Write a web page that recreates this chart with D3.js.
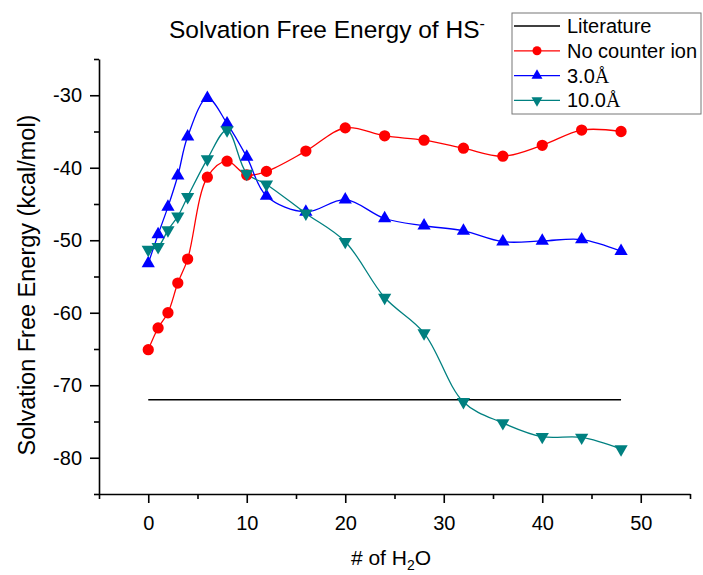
<!DOCTYPE html>
<html>
<head>
    <meta charset="utf-8">
    <title>Solvation Free Energy of HS-</title>
    <script src="https://d3js.org/d3.v7.min.js"></script>
    <style>
        body {
            margin: 0;
            background: #fff;
            font-family: Arial, 'Liberation Sans', sans-serif;
        }
        svg text { fill: #000; }
        .axis path, .axis line { stroke: #000; stroke-width: 1.6px; }
        .axis text { font-size: 20px; font-family: Arial, 'Liberation Sans', sans-serif; }
    </style>
</head>
<body>
<div id="chart"></div>
<script>
    // data
    const nWater = [0, 1, 2, 3, 4, 6, 8, 10, 12, 16, 20, 24, 28, 32, 36, 40, 44, 48];
    const noCounterIon = [-65.1, -62.1, -60.0, -55.9, -52.6, -41.3, -39.1, -41.0, -40.5, -37.7, -34.5, -35.6, -36.2, -37.3, -38.4, -36.9, -34.8, -35.0];
    const counter3A = [-53.2, -49.2, -45.4, -41.1, -35.7, -30.4, -33.9, -38.5, -43.9, -46.1, -44.4, -47.0, -48.0, -48.7, -50.2, -50.1, -49.9, -51.5];
    const counter10A = [-51.3, -50.9, -48.6, -46.7, -44.0, -38.8, -34.8, -40.8, -42.3, -46.3, -50.2, -57.9, -62.8, -72.3, -75.2, -77.1, -77.2, -78.8];
    const literatureX = [0, 48];
    const literatureY = [-72, -72];

    const xTicks = [0, 10, 20, 30, 40, 50];
    const yTicks = [-30, -40, -50, -60, -70, -80];

    const width = 703, height = 575;
    const margin = { top: 59, right: 13, bottom: 81, left: 99 };

    const svg = d3.select("#chart").append("svg")
        .attr("width", width)
        .attr("height", height);

    const x = d3.scaleLinear().domain([-5, 55]).range([margin.left, width - margin.right]);
    const y = d3.scaleLinear().domain([-85, -25]).range([height - margin.bottom, margin.top]);

    // axes: major + minor ticks
    const xAxis = svg.append("g").attr("class", "axis")
        .attr("transform", `translate(0,${height - margin.bottom})`)
        .call(d3.axisBottom(x).tickValues(xTicks).tickSize(9).tickPadding(8).tickSizeOuter(0));
    svg.append("g").attr("class", "axis")
        .attr("transform", `translate(0,${height - margin.bottom})`)
        .call(d3.axisBottom(x).tickValues(d3.range(-5, 56, 10)).tickSize(5).tickFormat("").tickSizeOuter(0))
        .select(".domain").remove();

    svg.append("g").attr("class", "axis")
        .attr("transform", `translate(${margin.left},0)`)
        .call(d3.axisLeft(y).tickValues(yTicks).tickSize(9).tickPadding(8).tickSizeOuter(0));
    svg.append("g").attr("class", "axis")
        .attr("transform", `translate(${margin.left},0)`)
        .call(d3.axisLeft(y).tickValues(d3.range(-85, -24, 10)).tickSize(5).tickFormat("").tickSizeOuter(0))
        .select(".domain").remove();

    svg.selectAll(".axis text").text(function () { return this.textContent.replace("−", "-"); });
    xAxis.selectAll("text").attr("dy", "0.95em");

    // series
    const series = [
        { name: "No counter ion", values: noCounterIon, color: "#ff0000", shape: "circle" },
        { name: "3.0", values: counter3A, color: "#0000ff", shape: "up" },
        { name: "10.0", values: counter10A, color: "#008080", shape: "down" }
    ];

    const line = d3.line()
        .x(d => x(d[0]))
        .y(d => y(d[1]))
        .curve(d3.curveCatmullRom.alpha(0.5));

    // literature line
    svg.append("path")
        .datum(d3.zip(literatureX, literatureY))
        .attr("d", d3.line().x(d => x(d[0])).y(d => y(d[1])))
        .attr("fill", "none")
        .attr("stroke", "#000")
        .attr("stroke-width", 1.4);

    function marker(shape, big) {
        if (shape === "circle") return d3.symbol().type(d3.symbolCircle).size(big ? 100 : 64)();
        return d3.symbol().type(d3.symbolTriangle).size(big ? 76 : 52)();
    }

    series.forEach(s => {
        const pts = d3.zip(nWater, s.values);
        svg.append("path")
            .datum(pts)
            .attr("d", line)
            .attr("fill", "none")
            .attr("stroke", s.color)
            .attr("stroke-width", 1.3);
    });

    series.forEach(s => {
        const pts = d3.zip(nWater, s.values);
        svg.append("g").selectAll("path")
            .data(pts)
            .join("path")
            .attr("d", marker(s.shape, true))
            .attr("transform", d => `translate(${x(d[0])},${y(d[1])})` + (s.shape === "down" ? " rotate(180)" : ""))
            .attr("fill", s.color);
    });

    // title
    const title = svg.append("text")
        .attr("x", 169)
        .attr("y", 38)
        .style("font-size", "24.5px");
    title.append("tspan").text("Solvation Free Energy of HS");
    title.append("tspan").attr("dy", -9).style("font-size", "16px").text("-");

    // axis titles
    const xl = svg.append("text")
        .attr("x", 391)
        .attr("y", 565)
        .attr("text-anchor", "middle")
        .style("font-size", "21px");
    xl.append("tspan").text("# of H");
    xl.append("tspan").attr("dy", 5).style("font-size", "14px").text("2");
    xl.append("tspan").attr("dy", -5).text("O");

    svg.append("text")
        .attr("transform", "translate(35,285) rotate(-90)")
        .attr("text-anchor", "middle")
        .style("font-size", "23.5px")
        .text("Solvation Free Energy (kcal/mol)");

    // legend
    const legend = svg.append("g").attr("transform", "translate(512,13)");
    legend.append("rect")
        .attr("width", 189).attr("height", 101)
        .attr("fill", "#fff").attr("stroke", "#777").attr("stroke-width", 1);

    const legendItems = [
        { label: "Literature", color: "#000", shape: null },
        ...series.map(s => ({ label: s.name, color: s.color, shape: s.shape }))
    ];

    legendItems.forEach((d, i) => {
        const gy = 13 + i * 24.8;
        const g = legend.append("g").attr("transform", `translate(0,${gy})`);
        g.append("line").attr("x1", 2).attr("x2", 48)
            .attr("stroke", d.color).attr("stroke-width", 1.3);
        if (d.shape) {
            g.append("path")
                .attr("d", marker(d.shape, false))
                .attr("transform", "translate(25,0)" + (d.shape === "down" ? " rotate(180)" : ""))
                .attr("fill", d.color);
        }
        const t = g.append("text").attr("x", 55).attr("dy", "0.35em").style("font-size", "20px");
        t.append("tspan").text(d.label);
        if (d.shape === "up" || d.shape === "down") {
            t.append("tspan").style("font-family", "'Liberation Serif', 'Times New Roman', serif").text("Å");
        }
    });
</script>
</body>
</html>
